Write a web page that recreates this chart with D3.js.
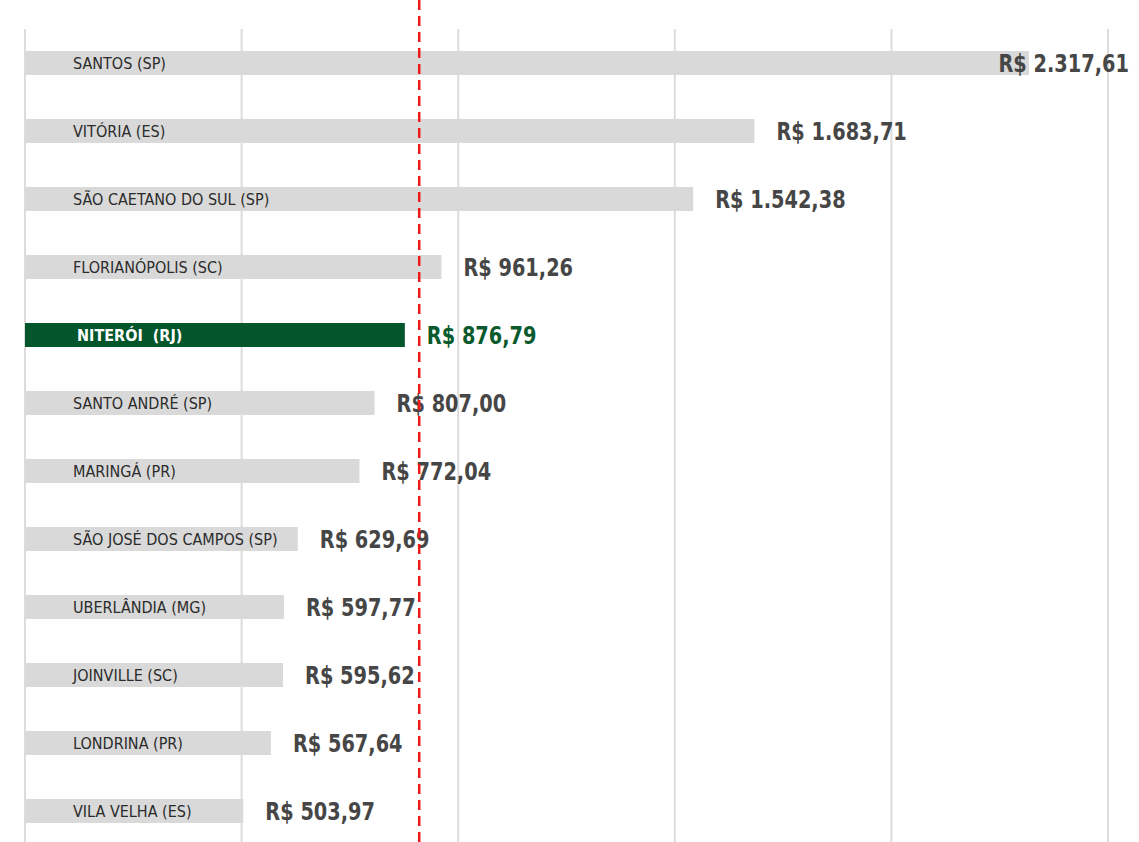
<!DOCTYPE html>
<html>
<head>
<meta charset="utf-8">
<script src="https://cdn.jsdelivr.net/npm/d3@7"></script>
<style>
  body { margin: 0; background: #fff; }
  svg { display: block; }
</style>
</head>
<body>
<div id="container"></div>
<script>
const width = 1139;
const height = 842;

const cities = [
  'SANTOS (SP)',
  'VITÓRIA (ES)',
  'SÃO CAETANO DO SUL (SP)',
  'FLORIANÓPOLIS (SC)',
  'NITERÓI\u00a0 (RJ)',
  'SANTO ANDRÉ (SP)',
  'MARINGÁ (PR)',
  'SÃO JOSÉ DOS CAMPOS (SP)',
  'UBERLÂNDIA (MG)',
  'JOINVILLE (SC)',
  'LONDRINA (PR)',
  'VILA VELHA (ES)'
];
const values = [2317.61, 1683.71, 1542.38, 961.26, 876.79, 807.00, 772.04, 629.69, 597.77, 595.62, 567.64, 503.97];
const highlight = 'NITERÓI\u00a0 (RJ)';
const averageValue = 910;
const gridTicks = [0, 500, 1000, 1500, 2000, 2500];

const rows = cities.map((c, i) => ({city: c, value: values[i]}));

const fmt = v => 'R$ ' + v.toLocaleString('pt-BR', {minimumFractionDigits: 2, maximumFractionDigits: 2});

const x = d3.scaleLinear().domain([0, 2500]).range([25, 1108]);
const y = d3.scalePoint().domain(cities).range([63, 811]);
const barH = 24;
const squeeze = 0.86; // condensed look for the value labels

const svg = d3.select('#container').append('svg')
  .attr('width', width)
  .attr('height', height);

// vertical gridlines
svg.append('g')
  .selectAll('line')
  .data(gridTicks)
  .join('line')
  .attr('x1', d => x(d))
  .attr('x2', d => x(d))
  .attr('y1', 29)
  .attr('y2', height)
  .attr('stroke', '#dcdcdc')
  .attr('stroke-width', 2);

// bars
svg.append('g')
  .selectAll('rect')
  .data(rows)
  .join('rect')
  .attr('x', x(0))
  .attr('y', d => y(d.city) - barH / 2)
  .attr('width', d => x(d.value) - x(0))
  .attr('height', barH)
  .attr('fill', d => d.city === highlight ? '#03552b' : '#d9d9d9');

// city labels inside bars
svg.append('g')
  .selectAll('text')
  .data(rows)
  .join('text')
  .attr('x', d => d.city === highlight ? 77 : 73)
  .attr('y', d => y(d.city))
  .attr('dy', '0.36em')
  .attr('font-family', '"DejaVu Sans Condensed", sans-serif')
  .attr('font-size', 16)
  .attr('font-weight', d => d.city === highlight ? 'bold' : 'normal')
  .attr('fill', d => d.city === highlight ? '#fff' : '#2b2b2b')
  .text(d => d.city);

// value labels
const valueLabels = svg.append('g')
  .selectAll('text')
  .data(rows)
  .join('text')
  .attr('dy', '0.36em')
  .attr('font-family', '"DejaVu Sans Condensed", sans-serif')
  .attr('font-size', 25)
  .attr('font-weight', 'bold')
  .attr('fill', d => d.city === highlight ? '#0b5a2e' : '#464646')
  .text(d => fmt(d.value));

// keep the longest label inside the picture
valueLabels.attr('transform', function(d) {
  const w = this.getComputedTextLength() * squeeze;
  const tx = Math.min(x(d.value) + 22, 1129 - w);
  return `translate(${tx},${y(d.city)}) scale(${squeeze},1)`;
});

// average line
svg.append('line')
  .attr('x1', x(averageValue))
  .attr('x2', x(averageValue))
  .attr('y1', 0)
  .attr('y2', height)
  .attr('stroke', '#f01818')
  .attr('stroke-width', 2.5)
  .attr('stroke-dasharray', '10,6');
</script>
</body>
</html>
